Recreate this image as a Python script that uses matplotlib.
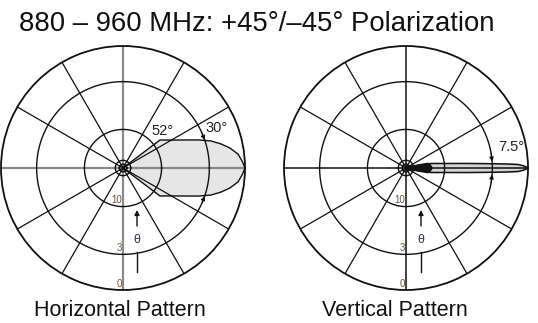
import numpy as np
import matplotlib
matplotlib.use("Agg")
import matplotlib.pyplot as plt

plt.rcParams['font.family'] = ['Liberation Sans', 'DejaVu Sans']

# ---- data ----
title = "880 \u2013 960 MHz: +45\u00b0/\u201345\u00b0 Polarization"
panel_titles = ["Horizontal Pattern", "Vertical Pattern"]

ring_db = [0, 3, 10, 24, 30]          # dB below peak for the grid rings
ring_labels = ["0", "3", "10"]        # labelled rings (bottom)
spoke_deg = [0, 30, 60, 90, 120, 150, 180, 210, 240, 270, 300, 330]

# horizontal pattern (angle deg, relative level dB)
horiz_deg = [-38.5, -37.1, -30.8, -25.0, -20.5, -17.1, -13.8, -10.6, -6.9, -3.4, 0,
             3.4, 6.9, 10.6, 13.8, 17.1, 20.5, 25.0, 30.8, 37.1, 38.5]
horiz_db = [-40, -8.4, -7.0, -5.3, -3.65, -2.45, -1.65, -1.0, -0.45, -0.2, 0,
            -0.2, -0.45, -1.0, -1.65, -2.45, -3.65, -5.3, -7.0, -8.4, -40]

# vertical pattern
vert_deg = [-40, -10.2, -6.4, -4.3, -3.1, -2.3, -1.8, -1.0, 0,
            1.0, 1.8, 2.3, 3.1, 4.3, 6.4, 10.2, 40]
vert_db = [-40, -13.6, -9.6, -6.1, -3.6, -1.7, -0.74, -0.29, 0,
           -0.29, -0.74, -1.7, -3.6, -6.1, -9.6, -13.6, -40]
# dark core of the vertical pattern near the origin
core_deg = [-60, -12, -8, 0, 8, 12, 60]
core_db = [-40, -14.7, -14.0, -13.4, -14.0, -14.7, -40]

horiz_bw_label = ["52\u00b0", "30\u00b0"]
vert_bw_label = "7.5\u00b0"


def amp(db):
    return 10 ** (np.asarray(db, dtype=float) / 20.0)


W, H = 538, 323
fig = plt.figure(figsize=(W / 100, H / 100), dpi=100)
fig.patch.set_facecolor('white')

R = 122
centers = [(123, 168), (406, 168)]
axes = []
for (cx, cy) in centers:
    ax = fig.add_axes([(cx - R) / W, (H - cy - R) / H, 2 * R / W, 2 * R / H],
                      projection='polar')
    ax.set_theta_zero_location('E')
    ax.set_ylim(0, 1)
    ax.grid(False)
    ax.set_xticks([])
    ax.set_yticks([])
    ax.spines['polar'].set_linewidth(1.3)
    ax.spines['polar'].set_color('#111111')
    axes.append(ax)

th_full = np.linspace(0, 2 * np.pi, 361)


def draw_grid(ax, cross_color, cross_lw):
    for d in ring_db[1:]:
        ax.plot(th_full, np.full_like(th_full, amp(-d)), color='#111111', lw=1.0, zorder=2)
    for s in spoke_deg:
        if s % 90 == 0:
            ax.plot([np.deg2rad(s)] * 2, [0, 1], color=cross_color, lw=cross_lw, zorder=1.5)
        else:
            ax.plot([np.deg2rad(s)] * 2, [0, 1], color='#111111', lw=0.9, zorder=2)
    for d, lab in zip(ring_db, ring_labels):
        ax.annotate(lab, xy=(np.deg2rad(270), amp(-d)), xytext=(-0.5, 1),
                    textcoords='offset points', ha='right', va='bottom',
                    fontsize=7, color='#6a5540', zorder=5)


# ---- horizontal pattern ----
ax = axes[0]
th = np.deg2rad(horiz_deg)
r = amp(horiz_db)
ax.fill(th, r, color='#e6e6e6', zorder=1)
draw_grid(ax, '#8a8a8a', 1.6)
ax.plot(th, r, color='#111111', lw=1.0, zorder=3)
ax.text(np.deg2rad(42.8), amp(-7.0), horiz_bw_label[0], fontsize=10.5, ha='center',
        va='center', color='#222222', zorder=5)
ax.text(np.deg2rad(23), amp(-1.55), horiz_bw_label[1], fontsize=10.5, ha='center',
        va='center', color='#222222', zorder=5)
for a0, a1 in [(24, 19), (-24, -19)]:
    ax.annotate('', xy=(np.deg2rad(a1), amp(-3)), xytext=(np.deg2rad(a0), amp(-3)),
                arrowprops=dict(arrowstyle='-|>', color='#111111', lw=0.8,
                                mutation_scale=6, shrinkA=0, shrinkB=0), zorder=5)

# ---- vertical pattern ----
ax = axes[1]
th = np.deg2rad(vert_deg)
r = amp(vert_db)
ax.fill(th, r, color='#d4d4d4', zorder=1)
draw_grid(ax, '#111111', 1.1)
ax.plot(th, r, color='#111111', lw=1.1, zorder=3)
ax.fill(np.deg2rad(core_deg), amp(core_db), color='#111111', zorder=3)
ax.text(np.deg2rad(11.3), amp(-1.14), vert_bw_label, fontsize=10.5, ha='center',
        va='center', color='#222222', zorder=5)
for a0, a1 in [(10, 4.3), (-10, -4.3)]:
    ax.annotate('', xy=(np.deg2rad(a1), amp(-3)), xytext=(np.deg2rad(a0), amp(-3)),
                arrowprops=dict(arrowstyle='-|>', color='#111111', lw=0.8,
                                mutation_scale=6, shrinkA=0, shrinkB=0), zorder=5)

# theta markers
for ax, dx in zip(axes, [14, 15]):
    x = 0.5 + dx / (2 * R)
    ax.annotate('', xy=(x, 0.5 - 42 / (2 * R)), xytext=(x, 0.5 - 58 / (2 * R)),
                xycoords='axes fraction', textcoords='axes fraction',
                arrowprops=dict(arrowstyle='-|>', color='#111111', lw=1.0,
                                mutation_scale=7, shrinkA=0, shrinkB=0))
    ax.text(x, 0.5 - 72 / (2 * R), '\u03b8', transform=ax.transAxes, ha='center',
            va='center', fontsize=9, color='#333344')
    ax.plot([x, x], [0.5 - 84 / (2 * R), 0.5 - 104 / (2 * R)], transform=ax.transAxes,
            color='#111111', lw=1.0, clip_on=False)

fig.text(257 / W, 1 - 24 / H, title, ha='center', va='center', fontsize=19.8, color='#111111')
fig.text(120 / W, 1 - 311 / H, panel_titles[0], ha='center', va='center', fontsize=15.5,
         color='#111111')
fig.text(395 / W, 1 - 311 / H, panel_titles[1], ha='center', va='center', fontsize=15.5,
         color='#111111')

fig.savefig('out.png', dpi=100, facecolor='white')
